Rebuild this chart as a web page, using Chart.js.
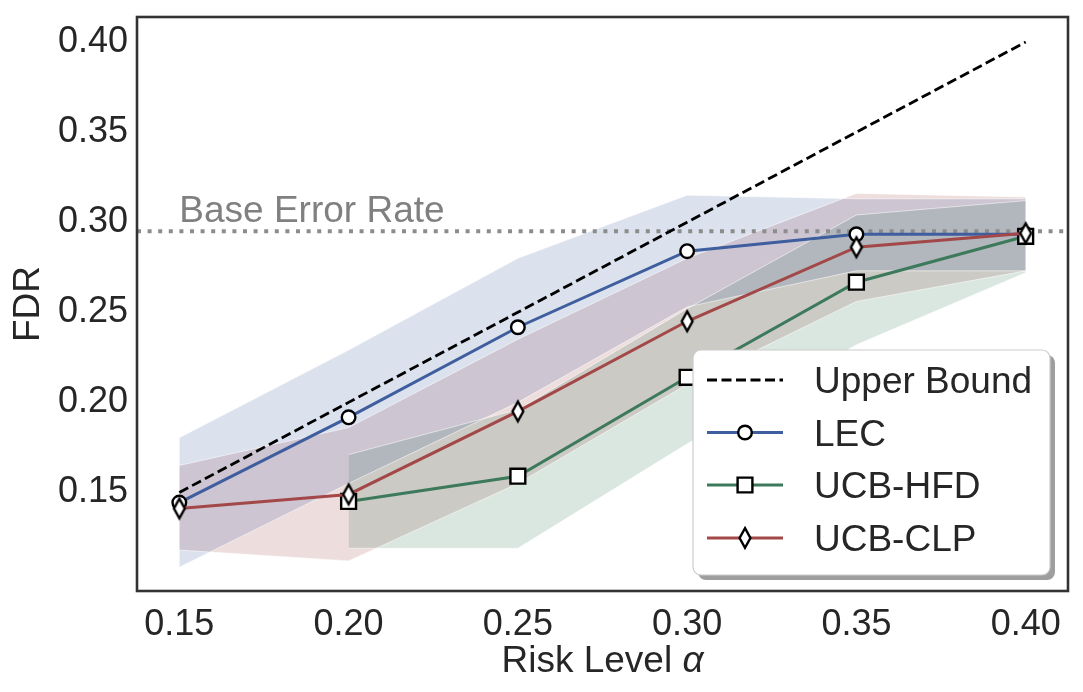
<!DOCTYPE html>
<html>
<head>
<meta charset="utf-8">
<script src="https://cdn.jsdelivr.net/npm/chart.js@4.4.1/dist/chart.umd.min.js"></script>
<style>
html,body{margin:0;padding:0;background:#fff;}
#wrap{width:1083px;height:692px;position:relative;}
</style>
</head>
<body>
<div id="wrap"><canvas id="c"></canvas></div>
<script>
// ---- data ----
const alphas     = [0.15, 0.20, 0.25, 0.30, 0.35, 0.40];
const upperBound = [0.15, 0.20, 0.25, 0.30, 0.35, 0.40];

const lecMean = [0.1444, 0.1917, 0.2417, 0.2839, 0.2933, 0.2933];
const lecLow  = [0.1085, 0.1550, 0.2000, 0.2530, 0.2730, 0.2730];
const lecHigh = [0.1804, 0.2290, 0.2800, 0.3150, 0.3130, 0.3130];

const hfdMean = [null, 0.1450, 0.1590, 0.2139, 0.2667, 0.2922];
const hfdLow  = [null, 0.1190, 0.1190, 0.1770, 0.2320, 0.2720];
const hfdHigh = [null, 0.1710, 0.1960, 0.2520, 0.3040, 0.3120];

const clpMean = [0.1411, 0.1489, 0.1950, 0.2450, 0.2861, 0.2939];
const clpLow  = [0.1180, 0.1120, 0.1550, 0.2100, 0.2560, 0.2730];
const clpHigh = [0.1650, 0.1860, 0.2350, 0.2800, 0.3160, 0.3140];

const baseErrorRate = 0.295;
const baseTextPos = [0.15, 0.30];

const xTicks = [0.15, 0.20, 0.25, 0.30, 0.35, 0.40];
const yTicks = [0.15, 0.20, 0.25, 0.30, 0.35, 0.40];
const xRange = [0.1375, 0.4125];
const yRange = [0.0953, 0.4139];

const seriesNames = ['Upper Bound', 'LEC', 'UCB-HFD', 'UCB-CLP'];
const xTitle = ['Risk Level ', 'α'];

// ---- styles ----
const FONT = '"Liberation Sans", Arial, Helvetica, sans-serif';
const TXT = '#262626';
const BLUE = '#3F5E9E', GREEN = '#3D7A5B', RED = '#A34848';
const BLUE_F = 'rgba(63,94,158,0.19)', GREEN_F = 'rgba(61,122,91,0.19)', RED_F = 'rgba(163,72,72,0.19)';
const EDGE = 'rgba(255,255,255,0.55)';

function pts(ys){ return alphas.map((x,i)=>({x:x, y:ys[i]})).filter(p=>p.y!==null); }

// thin diamond marker
function makeDiamond(){
  const c = document.createElement('canvas');
  c.width = 18; c.height = 30;
  const g = c.getContext('2d');
  g.beginPath();
  g.moveTo(9, 15-9.8); g.lineTo(9+5.4, 15); g.lineTo(9, 15+9.8); g.lineTo(9-5.4, 15); g.closePath();
  g.fillStyle = '#fff'; g.fill();
  g.lineWidth = 2.4; g.strokeStyle = '#000'; g.lineJoin = 'miter'; g.stroke();
  return c;
}
const diamond = makeDiamond();

const lineDs = (label, data, color, style, radius) => ({
  label, data: pts(data), borderColor: color, borderWidth: 3, fill: false,
  pointStyle: style, pointRadius: radius, pointHoverRadius: radius,
  pointBackgroundColor: '#fff', pointBorderColor: '#000', pointBorderWidth: 2.4,
  tension: 0, order: 0
});
const bandDs = (data, fillColor, fillTarget) => ({
  label: '', data: pts(data), borderColor: EDGE, borderWidth: 1, pointRadius: 0,
  backgroundColor: fillColor, fill: fillTarget, tension: 0, order: 10
});

const datasets = [
  lineDs(seriesNames[3], clpMean, RED, diamond, 8),
  lineDs(seriesNames[2], hfdMean, GREEN, 'rect', 10.5),
  lineDs(seriesNames[1], lecMean, BLUE, 'circle', 6.8),
  { label: seriesNames[0], data: pts(upperBound), borderColor: '#000', borderWidth: 2.8,
    borderDash: [10, 4.5], pointRadius: 0, fill: false, order: 1 },
  { label: 'base', data: [{x: xRange[0], y: baseErrorRate}, {x: xRange[1], y: baseErrorRate}],
    borderColor: '#8c8c8c', borderWidth: 4, borderDash: [4, 6.6], borderCapStyle: 'butt',
    pointRadius: 0, fill: false, order: 2 },
  bandDs(lecLow, BLUE_F, false), bandDs(lecHigh, BLUE_F, '-1'),
  bandDs(hfdLow, GREEN_F, false), bandDs(hfdHigh, GREEN_F, '-1'),
  bandDs(clpLow, RED_F, false), bandDs(clpHigh, RED_F, '-1')
];

const decor = {
  id: 'decor',
  afterDatasetsDraw(chart){
    const {ctx, chartArea: a, scales: {x, y}} = chart;
    ctx.save();
    // Base Error Rate label
    ctx.font = '37px ' + FONT;
    ctx.fillStyle = '#808080';
    ctx.textAlign = 'left'; ctx.textBaseline = 'alphabetic';
    ctx.fillText('Base Error Rate', x.getPixelForValue(baseTextPos[0]), y.getPixelForValue(baseTextPos[1]));
    // frame
    ctx.strokeStyle = '#333'; ctx.lineWidth = 2.6;
    ctx.strokeRect(a.left, a.top, a.right - a.left, a.bottom - a.top);
    // x-axis title with italic alpha
    ctx.fillStyle = TXT;
    ctx.font = '37px ' + FONT;
    const w1 = ctx.measureText(xTitle[0]).width;
    ctx.font = 'italic 37px ' + FONT;
    const w2 = ctx.measureText(xTitle[1]).width;
    const cx = (a.left + a.right) / 2, sx = cx - (w1 + w2) / 2, by0 = a.bottom + 81;
    ctx.font = '37px ' + FONT; ctx.fillText(xTitle[0], sx, by0);
    ctx.font = 'italic 37px ' + FONT; ctx.fillText(xTitle[1], sx + w1, by0);
    // legend
    const bw = 357, bh = 225;
    const bx = a.right - 18 - bw, by = a.bottom - 16 - bh;
    const rr = (X, Y, W, H, R) => { ctx.beginPath(); ctx.roundRect(X, Y, W, H, R); };
    rr(bx + 5, by + 5, bw, bh, 8); ctx.fillStyle = 'rgba(0,0,0,0.38)'; ctx.fill();
    rr(bx, by, bw, bh, 8); ctx.fillStyle = '#fff'; ctx.fill();
    ctx.lineWidth = 1.2; ctx.strokeStyle = '#cccccc'; ctx.stroke();
    const rows = [by + 30, by + 82.5, by + 135, by + 188];
    const lx0 = bx + 14, lx1 = bx + 90, mx = (lx0 + lx1) / 2;
    const cols = ['#000', BLUE, GREEN, RED];
    rows.forEach((ry, i) => {
      ctx.beginPath(); ctx.moveTo(lx0, ry); ctx.lineTo(lx1, ry);
      ctx.strokeStyle = cols[i]; ctx.lineWidth = 2.9;
      ctx.setLineDash(i === 0 ? [10, 4.5] : []); ctx.lineCap = 'butt';
      ctx.stroke(); ctx.setLineDash([]);
      ctx.fillStyle = '#fff'; ctx.strokeStyle = '#000'; ctx.lineWidth = 2.4;
      if (i === 1) { ctx.beginPath(); ctx.arc(mx, ry, 6.8, 0, Math.PI * 2); ctx.fill(); ctx.stroke(); }
      if (i === 2) { const s = 7.4; ctx.beginPath(); ctx.rect(mx - s, ry - s, 2 * s, 2 * s); ctx.fill(); ctx.stroke(); }
      if (i === 3) { ctx.drawImage(diamond, mx - diamond.width / 2, ry - diamond.height / 2); }
      ctx.font = '37px ' + FONT; ctx.fillStyle = TXT;
      ctx.textAlign = 'left'; ctx.textBaseline = 'alphabetic';
      ctx.fillText(seriesNames[i], bx + 121, ry + 13);
    });
    ctx.restore();
  }
};

new Chart(document.getElementById('c'), {
  type: 'line',
  data: { datasets },
  plugins: [decor],
  options: {
    responsive: true, maintainAspectRatio: false, animation: false,
    layout: { padding: { left: 0, right: 15, top: 17, bottom: 0 } },
    plugins: {
      legend: { display: false }, tooltip: { enabled: false },
      filler: { drawTime: 'beforeDatasetsDraw', propagate: false }
    },
    scales: {
      x: {
        type: 'linear', min: xRange[0], max: xRange[1],
        afterBuildTicks: s => { s.ticks = xTicks.map(v => ({value: v})); },
        afterFit: s => { s.height = 101; },
        grid: { display: false, drawTicks: false }, border: { display: false },
        ticks: { padding: 12, color: TXT, font: { size: 36, family: FONT }, callback: v => Number(v).toFixed(2), maxRotation: 0 },
        title: { display: false }
      },
      y: {
        type: 'linear', min: yRange[0], max: yRange[1],
        afterBuildTicks: s => { s.ticks = yTicks.map(v => ({value: v})); },
        afterFit: s => { s.width = 137; },
        grid: { display: false, drawTicks: false }, border: { display: false },
        ticks: { padding: 9, color: TXT, font: { size: 36, family: FONT, lineHeight: 0.4 }, callback: v => Number(v).toFixed(2) },
        title: { display: true, text: 'FDR', color: TXT, font: { size: 37, family: FONT }, padding: { top: 7, bottom: 0 } }
      }
    }
  }
});
</script>
</body>
</html>
